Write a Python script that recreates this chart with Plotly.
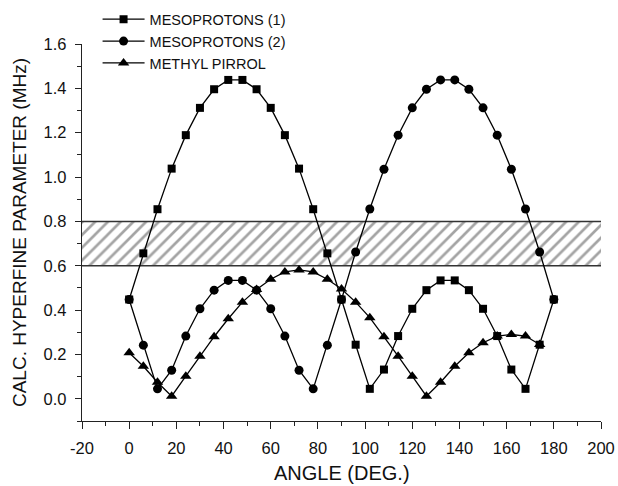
import plotly.graph_objects as go

angles = list(range(0, 181, 6))
meso1 = [0.448, 0.656, 0.855, 1.038, 1.189, 1.312, 1.396, 1.438, 1.438, 1.396, 1.312,
         1.189, 1.038, 0.855, 0.656, 0.448, 0.244, 0.045, 0.132, 0.283, 0.406, 0.490,
         0.534, 0.534, 0.490, 0.406, 0.283, 0.132, 0.045, 0.244, 0.448]
meso2 = [0.448, 0.242, 0.045, 0.129, 0.283, 0.406, 0.490, 0.534, 0.534, 0.490, 0.406,
         0.283, 0.129, 0.045, 0.242, 0.448, 0.662, 0.856, 1.035, 1.189, 1.312, 1.396,
         1.438, 1.438, 1.396, 1.312, 1.189, 1.035, 0.856, 0.662, 0.448]
angles_pirrol = list(range(0, 175, 6))
pirrol = [0.208, 0.147, 0.075, 0.012, 0.102, 0.192, 0.280, 0.361, 0.436, 0.493, 0.539,
          0.572, 0.581, 0.572, 0.539, 0.495, 0.436, 0.366, 0.280, 0.192, 0.102, 0.012,
          0.075, 0.147, 0.208, 0.253, 0.283, 0.290, 0.283, 0.245]
names = ["MESOPROTONS (1)", "MESOPROTONS (2)", "METHYL PIRROL"]
x_tickvals = list(range(-20, 201, 20))
x_ticktext = [str(v) for v in x_tickvals]
y_tickvals = [0.0, 0.2, 0.4, 0.6, 0.8, 1.0, 1.2, 1.4, 1.6]
y_ticktext = ["%.1f" % v for v in y_tickvals]
band_x = [-20, 200, 200, -20, -20]
band_y = [0.6, 0.6, 0.8, 0.8, 0.6]
band_edges = [0.6, 0.8]
x_title = "ANGLE (DEG.)"
y_title = "CALC. HYPERFINE PARAMETER (MHz)"

FONT = "Liberation Sans, Arial, sans-serif"

fig = go.Figure()
fig.add_trace(go.Scatter(x=band_x, y=band_y, mode="lines", fill="toself",
                         line=dict(width=0), fillcolor="rgba(0,0,0,0)",
                         fillpattern=dict(shape="/", fgcolor="#4a4a4a", bgcolor="white",
                                          size=9, solidity=0.3),
                         showlegend=False, hoverinfo="skip"))
for yv in band_edges:
    fig.add_trace(go.Scatter(x=[-20, 200], y=[yv, yv], mode="lines",
                             line=dict(color="#333333", width=1.5),
                             showlegend=False, hoverinfo="skip"))

fig.add_trace(go.Scatter(x=angles, y=meso1, name=names[0], mode="lines+markers",
                         line=dict(color="black", width=1.3),
                         marker=dict(symbol="square", size=8, color="black")))
fig.add_trace(go.Scatter(x=angles, y=meso2, name=names[1], mode="lines+markers",
                         line=dict(color="black", width=1.3),
                         marker=dict(symbol="circle", size=9, color="black")))
fig.add_trace(go.Scatter(x=angles_pirrol, y=pirrol, name=names[2], mode="lines+markers",
                         line=dict(color="black", width=1.3),
                         marker=dict(symbol="triangle-up", size=10, color="black")))

fig.add_annotation(text=x_title, xref="paper", yref="paper", x=0.5, y=-0.137,
                   xanchor="center", yanchor="middle", showarrow=False,
                   font=dict(size=20, family=FONT, color="#111111"))

fig.update_layout(
    width=618, height=486,
    margin=dict(l=82, r=17, t=44, b=65, autoexpand=False),
    paper_bgcolor="white", plot_bgcolor="white",
    font=dict(family=FONT, size=16.5, color="#111111"),
    legend=dict(x=0.03, y=1.108, xanchor="left", yanchor="top",
                bgcolor="rgba(0,0,0,0)", font=dict(size=14.5),
                itemwidth=42, tracegroupgap=0),
    xaxis=dict(range=[-20, 200], tickmode="array", tickvals=x_tickvals,
               ticktext=x_ticktext, showline=True, linecolor="#222222",
               linewidth=1.3, ticks="outside", ticklen=7, tickwidth=1.3,
               tickcolor="#222222", showgrid=False, zeroline=False,
               ticklabelstandoff=5,
               minor=dict(dtick=10, tick0=0, ticks="outside", ticklen=4,
                          tickcolor="#222222", showgrid=False)),
    yaxis=dict(range=[-0.1, 1.6], tickmode="array", tickvals=y_tickvals,
               ticktext=y_ticktext, showline=True,
               linecolor="#222222", linewidth=1.3, ticks="outside", ticklen=6,
               tickwidth=1.3, tickcolor="#222222", showgrid=False, zeroline=False,
               ticklabelstandoff=5,
               minor=dict(dtick=0.1, tick0=0, ticks="outside", ticklen=4,
                          tickcolor="#222222", showgrid=False),
               title=dict(text=y_title, font=dict(size=19), standoff=11)),
)

fig.write_html("out.html")
